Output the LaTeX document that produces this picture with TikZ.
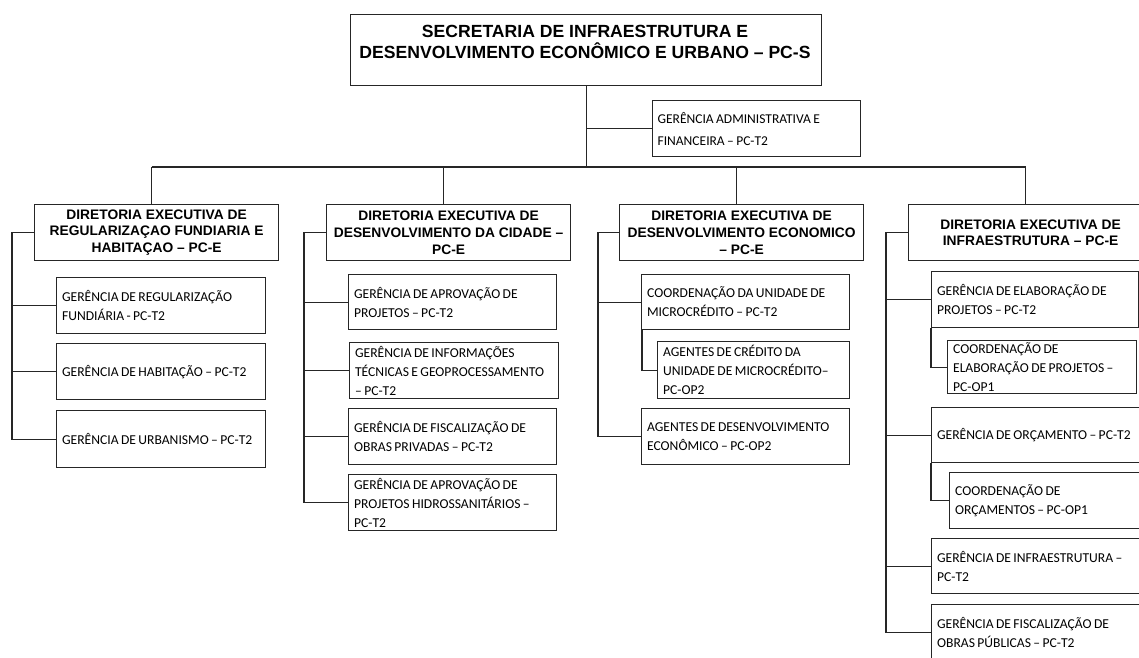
\documentclass[tikz,border=0pt]{standalone}
\usepackage{fontspec}
\setmainfont{Liberation Sans}
\newfontfamily\calib{Carlito}
\usetikzlibrary{calc}
\begin{document}
\begin{tikzpicture}[x=1pt,y=-1pt,
  conn/.style={line width=1.2pt, draw=black!85},
  boxbase/.style={draw=black!85, line width=1.2pt, rectangle, inner sep=0pt, anchor=north west},
  sub/.style n args={2}{boxbase, minimum width=#1pt, minimum height=#2pt,
     text width=\dimexpr #1pt-11pt\relax, inner xsep=5.5pt, align=left,
     font=\calib\fontsize{13.6}{19}\selectfont,
     execute at begin node={\spaceskip=2.4pt plus 1pt minus 0.5pt\relax}},
  dirbox/.style={boxbase, minimum width=244pt, minimum height=56pt, align=center,
     font=\bfseries\fontsize{13.8}{16.7}\selectfont},
  titletext/.style={inner sep=0pt, align=center, font=\bfseries\fontsize{17.6}{21}\selectfont}
]
\useasboundingbox (0,0) rectangle (1139,657);
\fill[white] (0,0) rectangle (1139,657);
\clip (0,0) rectangle (1139,657);

% top
\node[boxbase, minimum width=471pt, minimum height=71pt] (top) at (350,14) {};
\node[titletext] (toptext) at (585,41.5) {SECRETARIA DE INFRAESTRUTURA E\\DESENVOLVIMENTO ECONÔMICO E URBANO – PC-S};
\node[sub={208}{56}, font=\calib\fontsize{13.5}{22}\selectfont, inner xsep=5pt, text width=198pt] (admin) at (652,100) {GERÊNCIA ADMINISTRATIVA E\\FINANCEIRA – PC-T2};

% directors
\node[dirbox] (d1) at (34,204) {DIRETORIA EXECUTIVA DE\\REGULARIZAÇAO FUNDIARIA E\\HABITAÇAO – PC-E};
\node[dirbox] (d2) at (326,204) {DIRETORIA EXECUTIVA DE\\DESENVOLVIMENTO DA CIDADE –\\PC-E};
\node[dirbox] (d3) at (619,204) {DIRETORIA EXECUTIVA DE\\DESENVOLVIMENTO ECONOMICO\\– PC-E};
\node[dirbox] (d4) at (908,204) {DIRETORIA EXECUTIVA DE\\INFRAESTRUTURA – PC-E};

% column 1
\node[sub={209}{56}] (g11) at (56,277) {GERÊNCIA DE REGULARIZAÇÃO\\FUNDIÁRIA - PC-T2};
\node[sub={209}{56}] (g12) at (56,343) {GERÊNCIA DE HABITAÇÃO – PC-T2};
\node[sub={209}{57}] (g13) at (56,410) {GERÊNCIA DE URBANISMO – PC-T2};

% column 2
\node[sub={208}{55}] (g21) at (348,274) {GERÊNCIA DE APROVAÇÃO DE\\PROJETOS – PC-T2};
\node[sub={209}{56}] (g22) at (349,342) {GERÊNCIA DE INFORMAÇÕES\\TÉCNICAS E GEOPROCESSAMENTO\\– PC-T2};
\node[sub={208}{56}] (g23) at (348,408) {GERÊNCIA DE FISCALIZAÇÃO DE\\OBRAS PRIVADAS – PC-T2};
\node[sub={208}{56}] (g24) at (348,474) {GERÊNCIA DE APROVAÇÃO DE\\PROJETOS HIDROSSANITÁRIOS –\\PC-T2};

% column 3
\node[sub={208}{55}] (g31) at (641,274) {COORDENAÇÃO DA UNIDADE DE\\MICROCRÉDITO – PC-T2};
\node[sub={192}{57}] (a31) at (657,341) {AGENTES DE CRÉDITO DA\\UNIDADE DE MICROCRÉDITO–\\PC-OP2};
\node[sub={208}{56}] (g32) at (641,408) {AGENTES DE DESENVOLVIMENTO\\ECONÔMICO – PC-OP2};

% column 4
\node[sub={207}{56}] (g41) at (931,271) {GERÊNCIA DE ELABORAÇÃO DE\\PROJETOS – PC-T2};
\node[sub={189}{53}] (a41) at (947,340) {COORDENAÇÃO DE\\ELABORAÇÃO DE PROJETOS –\\PC-OP1};
\node[sub={208}{55}] (g42) at (931,407) {GERÊNCIA DE ORÇAMENTO – PC-T2};
\node[sub={200}{56}] (a42) at (949,472) {COORDENAÇÃO DE\\ORÇAMENTOS – PC-OP1};
\node[sub={214}{55}] (g43) at (931,538) {GERÊNCIA DE INFRAESTRUTURA –\\PC-T2};
\node[sub={214}{56}] (g44) at (931,604) {GERÊNCIA DE FISCALIZAÇÃO DE\\OBRAS PÚBLICAS – PC-T2};

% trunk and bus
\coordinate (busL) at ([xshift=-5pt]d1.north |- 0,167);
\coordinate (busR) at ([xshift=-5pt]d4.north |- 0,167);
\draw[conn] (busL) -- (busR);
\draw[conn] (top.south) -- (top.south |- busL);
\draw[conn] (admin.west) -- (admin.west -| top.south);
\foreach \d in {d1,d2,d3,d4}{
  \draw[conn] ([xshift=-5pt]\d.north) -- ([xshift=-5pt]\d.north |- busL);
}

% spines
\draw[conn] (d1.west) -- ++(-22,0) coordinate (sp1) |- (g13.west);
\draw[conn] (g11.west) -- (g11.west -| sp1);
\draw[conn] (g12.west) -- (g12.west -| sp1);

\draw[conn] (d2.west) -- ++(-22,0) coordinate (sp2) |- (g24.west);
\draw[conn] (g21.west) -- (g21.west -| sp2);
\draw[conn] (g22.west) -- (g22.west -| sp2);
\draw[conn] (g23.west) -- (g23.west -| sp2);

\draw[conn] (d3.west) -- ++(-21,0) coordinate (sp3) |- (g32.west);
\draw[conn] (g31.west) -- (g31.west -| sp3);
\draw[conn] ([xshift=1pt]g31.south west) |- (a31.west);

\draw[conn] (d4.west) -- ++(-22,0) coordinate (sp4) |- (g44.west);
\draw[conn] (g41.west) -- (g41.west -| sp4);
\draw[conn] (g42.west) -- (g42.west -| sp4);
\draw[conn] (g43.west) -- (g43.west -| sp4);
\draw[conn] (g41.south west) |- (a41.west);
\draw[conn] (g42.south west) |- (a42.west);
\end{tikzpicture}
\end{document}
